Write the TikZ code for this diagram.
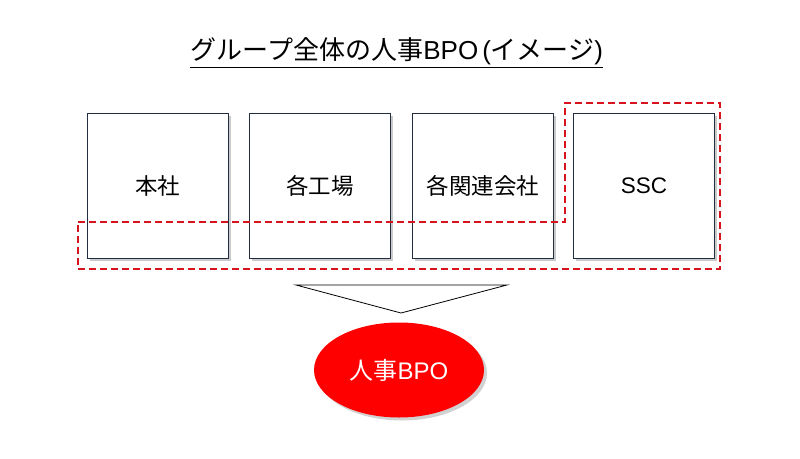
\documentclass[tikz,border=0pt]{standalone}
\usepackage{fontspec}
\setmainfont{Noto Sans CJK JP}
\newfontfamily\latinfont{Liberation Sans}
\usetikzlibrary{shadows,shapes.geometric}
\definecolor{boxline}{RGB}{35,45,65}
\definecolor{dashred}{RGB}{215,20,30}
\tikzset{
  unitbox/.style={draw=boxline, line width=0.8pt, fill=white, minimum width=141pt, minimum height=145pt, inner sep=0pt, anchor=north west, font=\fontsize{22.5pt}{25pt}\selectfont,
    drop shadow={shadow xshift=2.5pt, shadow yshift=-2.5pt, opacity=0.35, fill=black!60}},
  groupline/.style={draw=dashred, line width=2.2pt, dash pattern=on 7pt off 4pt},
}
\begin{document}
\begin{tikzpicture}[x=1pt,y=-1pt]
\useasboundingbox (0,0) rectangle (800,458);
% title
\node (title) at (397,51) {\fontsize{26pt}{29pt}\selectfont グループ全体の人事{\latinfont BPO\kern4pt(}イメージ{\latinfont)}};
\draw[line width=1pt] (190,67) -- (603,67);
% boxes
\node[unitbox] (b1) at (87,113) {本社};
\node[unitbox] (b2) at (249,113) {各工場};
\node[unitbox] (b3) at (412,113) {各関連会社};
\node[unitbox] (b4) at (573,113) {\latinfont SSC};
% dashed group outline
\draw[groupline] (78,222) -- (565,222) -- (565,103) -- (720,103) -- (720,269) -- (78,269) -- cycle;
% triangle
\coordinate (tl) at (296,285);
\coordinate (tr) at (507,285);
\coordinate (tb) at (401,313);
\draw[line width=0.8pt] (tl) -- (tr) -- (tb) -- cycle;
% ellipse
\node[ellipse, fill=red, minimum width=170pt, minimum height=95pt, inner sep=0pt, text=white,
  font=\fontsize{24pt}{27pt}\selectfont,
  drop shadow={shadow xshift=3pt, shadow yshift=-3pt, opacity=0.3, fill=black!60}] (bpo) at (399,370) {人事{\latinfont BPO}};
\end{tikzpicture}
\end{document}
